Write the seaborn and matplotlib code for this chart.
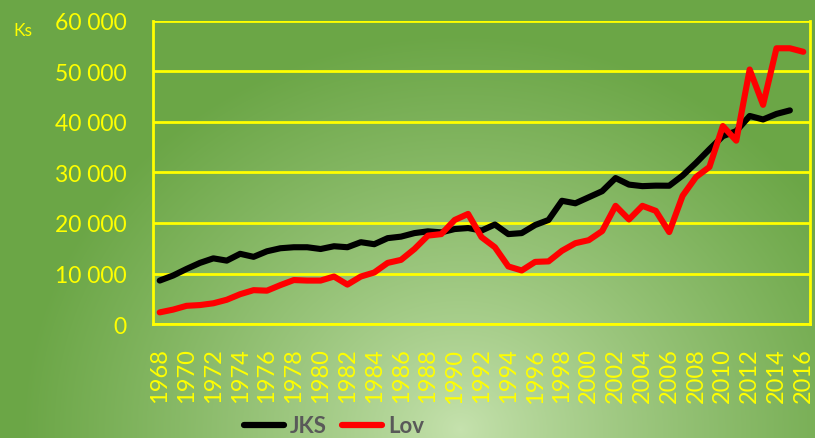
import numpy as np
import pandas as pd
import matplotlib
matplotlib.use("Agg")
import matplotlib.pyplot as plt
from matplotlib.ticker import FuncFormatter, FixedLocator
from matplotlib.lines import Line2D
import seaborn as sns

years = list(range(1968, 2017))
jks = [8600, 9600, 10900, 12100, 13000, 12550, 13900, 13300, 14400, 15000,
       15200, 15200, 14850, 15400, 15200, 16200, 15800, 17000, 17300, 18000,
       18350, 18150, 18800, 19000, 18500, 19700, 17800, 18000, 19600, 20600,
       24400, 23900, 25100, 26300, 28900, 27600, 27300, 27400, 27380, 29400,
       31900, 34600, 37200, 38200, 41200, 40500, 41600, 42300, None]
lov = [2300, 2850, 3600, 3750, 4100, 4800, 5900, 6700, 6600, 7700,
       8700, 8600, 8600, 9400, 7800, 9400, 10200, 12100, 12700, 14850,
       17500, 17800, 20600, 21800, 17200, 15200, 11400, 10600, 12300, 12400,
       14500, 16000, 16600, 18400, 23400, 20700, 23400, 22400, 18200, 25400,
       29100, 31100, 39200, 36300, 50400, 43400, 54600, 54600, 53900]
y_ticks = [0, 10000, 20000, 30000, 40000, 50000, 60000]
series_names = ["JKS", "Lov"]
series_colors = ["#000000", "#FF0000"]

df = pd.DataFrame({"year": years, "JKS": jks, "Lov": lov})
long = df.melt(id_vars="year", var_name="serie", value_name="value").dropna()

sns.set_theme(style="white")
plt.rcParams["font.family"] = ["Lato", "DejaVu Sans"]

W, H = 815, 439
fig = plt.figure(figsize=(W / 100, H / 100), dpi=100)

# radial gradient background
bg = fig.add_axes([0, 0, 1, 1], zorder=-10)
yy, xx = np.mgrid[0:H, 0:W]
cx, cy = 460, 430
r = np.sqrt(((xx - cx) / 1.0) ** 2 + ((yy - cy) / 0.9) ** 2)
t = np.clip(r / 440.0, 0, 1) ** 0.85
c_in = np.array([0xC6, 0xE2, 0xAE]) / 255
c_out = np.array([0x6B, 0xA6, 0x46]) / 255
img = c_in[None, None, :] * (1 - t[..., None]) + c_out[None, None, :] * t[..., None]
bg.imshow(img, aspect="auto", extent=[0, 1, 0, 1], origin="upper")
bg.axis("off")

ax = fig.add_axes([153 / W, 1 - 325 / H, (810 - 153) / W, (325 - 22) / H])
ax.set_facecolor("none")

sns.lineplot(data=long, x="year", y="value", hue="serie", hue_order=series_names,
             palette=series_colors, linewidth=4.4, ax=ax, legend=False,
             solid_capstyle="round", solid_joinstyle="round")

ax.set_xlim(years[0] - 0.5, years[-1] + 0.5)
ax.set_ylim(0, 60000)
ax.set_xlabel("")
ax.set_ylabel("")

yellow = "#FFFF00"
ax.set_yticks(y_ticks)
ax.yaxis.set_major_formatter(FuncFormatter(lambda v, p: f"{int(v):,}".replace(",", " ")))
ax.grid(axis="y", color=yellow, linewidth=2)
ax.grid(axis="x", visible=False)
ax.set_axisbelow(True)

ax.set_xticks(years[::2])
ax.set_xticklabels([str(y) for y in years[::2]], rotation=90)
ax.xaxis.set_minor_locator(FixedLocator([y - 0.5 for y in years] + [years[-1] + 0.5]))

ax.tick_params(axis="x", which="major", length=0, pad=17, labelsize=17, labelcolor=yellow)
ax.tick_params(axis="x", which="minor", length=7, width=1.5, color=yellow, direction="out")
ax.tick_params(axis="y", which="major", length=0, pad=19, labelsize=16.5, labelcolor=yellow)

for side in ["left", "bottom", "right"]:
    ax.spines[side].set_visible(True)
    ax.spines[side].set_color(yellow)
    ax.spines[side].set_linewidth(2)
ax.spines["top"].set_visible(False)

fig.text(13 / W, 1 - 31 / H, "Ks", color=yellow, fontsize=12.5, va="center", ha="left")

handles = [Line2D([0], [0], color=c, linewidth=4.5, solid_capstyle="round") for c in series_colors]
leg = fig.legend(handles, series_names, loc="center", bbox_to_anchor=(334 / W, 1 - 427 / H),
                 ncol=2, frameon=False, handlelength=1.8, handletextpad=0.25, columnspacing=0.7,
                 prop={"size": 16, "weight": "bold"})
for txt in leg.get_texts():
    txt.set_color("#595959")

fig.savefig("out.png", dpi=100)
